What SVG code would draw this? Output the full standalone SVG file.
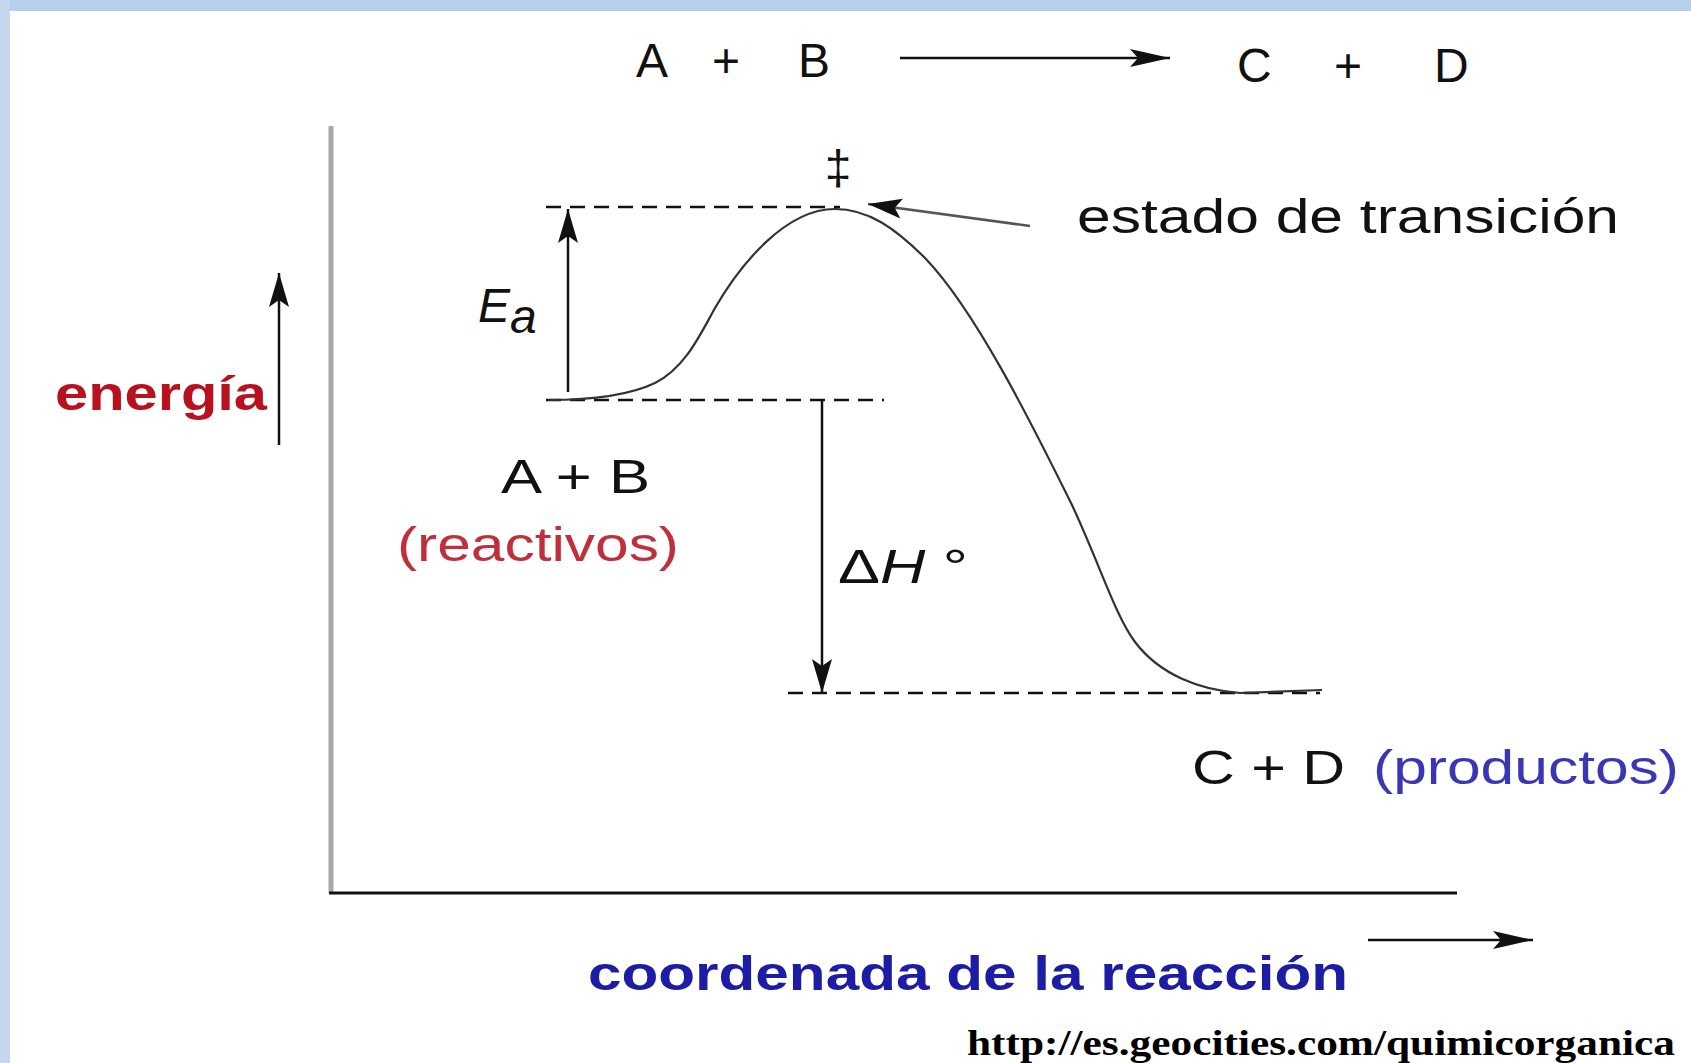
<svg xmlns="http://www.w3.org/2000/svg" width="1691" height="1063" viewBox="0 0 1691 1063">
<style>
.t{font-family:"Liberation Sans",Arial,sans-serif;font-size:48px;fill:#111}
.it{font-style:italic}
.b{font-weight:bold}
.dash{stroke:#111;stroke-width:2.6;stroke-dasharray:15 9;fill:none}
.ln{stroke:#111;stroke-width:2.5;fill:none}
</style>
<defs>
<marker id="ah" markerUnits="userSpaceOnUse" viewBox="0 0 34 22" refX="34" refY="11" markerWidth="34" markerHeight="22" orient="auto">
<path d="M0,1 L34,11 L0,21 L7,11 Z" fill="#111"/>
</marker>
<marker id="ah2" markerUnits="userSpaceOnUse" viewBox="0 0 40 20" refX="40" refY="10" markerWidth="40" markerHeight="20" orient="auto">
<path d="M0,1 L40,10 L0,19 L8,10 Z" fill="#111"/>
</marker>
</defs>
<rect width="1691" height="1063" fill="#fff"/>
<rect width="1691" height="11" fill="#b8cfec"/>
<rect width="10" height="1063" fill="#c4d7ee"/>

<g id="axes">
<line x1="331" y1="126" x2="331" y2="893" stroke="#a8a8a8" stroke-width="5"/>
<line x1="329" y1="893" x2="1457" y2="893" stroke="#111" stroke-width="3"/>
</g>

<g id="connectors">
<line class="ln" x1="900" y1="58" x2="1170" y2="58" marker-end="url(#ah2)"/>
<line class="ln" x1="279" y1="445" x2="279" y2="273" marker-end="url(#ah)"/>
<line class="ln" x1="568" y1="392" x2="568" y2="209" marker-end="url(#ah)"/>
<line class="ln" x1="822" y1="401" x2="822" y2="693" marker-end="url(#ah)"/>
<line x1="1030" y1="226" x2="868" y2="204" stroke="#555" stroke-width="2.5" marker-end="url(#ah)"/>
<line class="ln" x1="1368" y1="940" x2="1533" y2="940" marker-end="url(#ah2)"/>
<line class="dash" x1="546" y1="207" x2="840" y2="207"/>
<line class="dash" x1="546" y1="400" x2="884" y2="400"/>
<line class="dash" x1="788" y1="693" x2="1320" y2="693"/>
</g>

<g id="curve">
<path d="M548,400 C590,400 630,395 655,383 C685,368 700,335 715,308 C740,265 785,209 835,209 C868,209 895,228 925,258 C975,310 1030,420 1072,505 C1100,565 1115,615 1135,642 C1160,675 1200,690 1240,693 L1322,690" fill="none" stroke="#333" stroke-width="2.2"/>
</g>

<g id="reaction">
<text class="t" y="77" font-size="50"><tspan x="636">A</tspan><tspan x="712">+</tspan><tspan x="798">B</tspan></text>
<text class="t" y="82" font-size="50"><tspan x="1237">C</tspan><tspan x="1334">+</tspan><tspan x="1434">D</tspan></text>
</g>

<g id="ts">
<text class="t" x="838" y="184" font-size="44" text-anchor="middle">‡</text>
<text class="t" x="1077" y="233" textLength="542" lengthAdjust="spacingAndGlyphs">estado de transición</text>
</g>

<g id="energy">
<text class="t b" x="55" y="410" font-size="52" style="fill:#b8121f" textLength="212" lengthAdjust="spacingAndGlyphs">energía</text>
</g>

<g id="ea">
<text class="t it" x="478" y="322" font-size="48">E<tspan dy="11">a</tspan></text>
</g>

<g id="reactants">
<text class="t" x="501" y="493" textLength="149" lengthAdjust="spacingAndGlyphs">A + B</text>
<text class="t" x="397" y="561" style="fill:#c0303c" textLength="282" lengthAdjust="spacingAndGlyphs">(reactivos)</text>
</g>

<g id="dh">
<text class="t" x="838" y="583" textLength="130" lengthAdjust="spacingAndGlyphs">Δ<tspan class="it">H</tspan><tspan> °</tspan></text>
</g>

<g id="products">
<text class="t" x="1192" y="784" textLength="153" lengthAdjust="spacingAndGlyphs">C + D</text>
<text class="t" x="1373" y="784" style="fill:#3a36b4" textLength="306" lengthAdjust="spacingAndGlyphs">(productos)</text>
</g>

<g id="xlabel">
<text class="t b" x="588" y="990" font-size="54" style="fill:#1c1ca4" textLength="760" lengthAdjust="spacingAndGlyphs">coordenada de la reacción</text>
</g>

<g id="url">
<text x="967" y="1055" font-family="'Liberation Serif','Times New Roman',serif" font-weight="bold" font-size="36" fill="#000" textLength="708" lengthAdjust="spacingAndGlyphs">http://es.geocities.com/quimicorganica</text>
</g>
</svg>
